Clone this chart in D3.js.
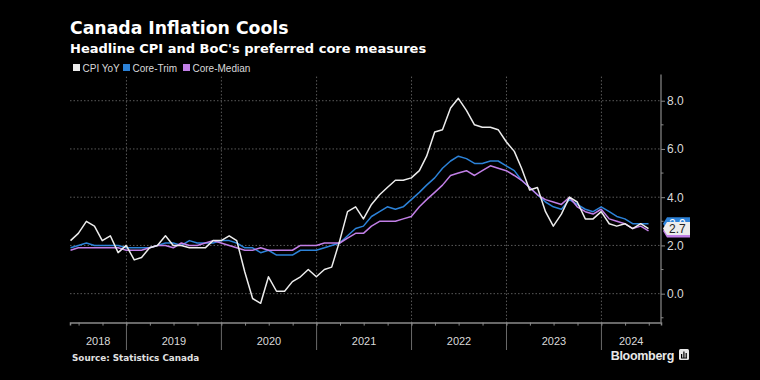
<!DOCTYPE html>
<html>
<head>
<meta charset="utf-8">
<script src="https://cdn.jsdelivr.net/npm/d3@7"></script>
<style>
  html, body { margin: 0; padding: 0; background: #000; }
  svg { display: block; font-family: "Liberation Sans", Arial, sans-serif; }
</style>
</head>
<body>
<svg id="chart" width="760" height="380"></svg>
<script>
// ---- Data (monthly, May 2018 – Jun 2024, YoY %) ----
const startMonth = "2018-05";
const cpiYoY = [
  2.2, 2.5, 3.0, 2.8, 2.2, 2.4, 1.7, 2.0,
  1.4, 1.5, 1.9, 2.0, 2.4, 2.0, 2.0, 1.9, 1.9, 1.9, 2.2, 2.2,
  2.4, 2.2, 0.9, -0.2, -0.4, 0.7, 0.1, 0.1, 0.5, 0.7, 1.0, 0.7,
  1.0, 1.1, 2.2, 3.4, 3.6, 3.1, 3.7, 4.1, 4.4, 4.7, 4.7, 4.8,
  5.1, 5.7, 6.7, 6.8, 7.7, 8.1, 7.6, 7.0, 6.9, 6.9, 6.8, 6.3,
  5.9, 5.2, 4.3, 4.4, 3.4, 2.8, 3.3, 4.0, 3.8, 3.1, 3.1, 3.4,
  2.9, 2.8, 2.9, 2.7, 2.9, 2.7
];
const coreTrim = [
  1.9, 2.0, 2.1, 2.0, 2.0, 2.0, 2.0, 1.9,
  1.9, 1.9, 1.9, 2.0, 2.1, 2.1, 2.0, 2.2, 2.1, 2.1, 2.1, 2.2,
  2.2, 2.1, 1.9, 1.9, 1.7, 1.8, 1.6, 1.6, 1.6, 1.8, 1.8, 1.8,
  1.9, 2.0, 2.1, 2.4, 2.7, 2.8, 3.2, 3.4, 3.6, 3.5, 3.6, 3.9,
  4.2, 4.5, 4.8, 5.2, 5.5, 5.7, 5.6, 5.4, 5.4, 5.5, 5.5, 5.3,
  5.1, 4.7, 4.4, 4.1, 3.8, 3.6, 3.5, 3.9, 3.7, 3.5, 3.4, 3.6,
  3.4, 3.2, 3.1, 2.9, 2.9, 2.9
];
const coreMedian = [
  1.8, 1.9, 1.9, 1.9, 1.9, 1.9, 1.9, 1.8,
  1.8, 1.8, 1.9, 2.0, 2.0, 1.9, 2.1, 2.0, 2.0, 2.1, 2.2, 2.1,
  2.0, 1.9, 1.8, 1.8, 1.9, 1.8, 1.8, 1.8, 1.8, 2.0, 2.0, 2.0,
  2.1, 2.1, 2.1, 2.3, 2.5, 2.5, 2.8, 3.0, 3.0, 3.0, 3.1, 3.2,
  3.6, 3.9, 4.2, 4.5, 4.9, 5.0, 5.1, 4.9, 5.1, 5.3, 5.2, 5.1,
  4.9, 4.7, 4.4, 4.1, 3.9, 3.8, 3.7, 4.0, 3.6, 3.4, 3.3, 3.5,
  3.1, 3.0, 2.9, 2.7, 2.8, 2.6
];
const seriesNames = ["CPI YoY", "Core-Trim", "Core-Median"];
const seriesColors = ["#ececec", "#2c82d8", "#c17fe6"];
const yTicks = [0, 2, 4, 6, 8];
const yMinorTicks = [-1, 1, 3, 5, 7];
const yearLabels = ["2018", "2019", "2020", "2021", "2022", "2023", "2024"];
const endLabels = ["2.7", "2.9", "2.6"];
const titleText = "Canada Inflation Cools";
const subtitleText = "Headline CPI and BoC's preferred core measures";
const sourceText = "Source: Statistics Canada";

// ---- Build ----
const svg = d3.select("#chart");
const parseMonth = d3.timeParse("%Y-%m");
const m0 = parseMonth(startMonth);
// month-end dates
const dates = cpiYoY.map((_, i) => d3.timeDay.offset(d3.timeMonth.offset(m0, i + 1), -1));
const allSeries = [cpiYoY, coreTrim, coreMedian];

const plotL = 70, plotR = 661, plotT = 76.6, plotB = 322.6;
const x = d3.scaleTime()
  .domain([new Date(2018, 4, 29), new Date(2024, 7, 17)])
  .range([plotL, plotR]);
const y = d3.scaleLinear().domain([-1.2, 9]).range([plotB, plotT]);

const gridColor = "#5a5a5a";
const axisColor = "#8a8a8a";
const textColor = "#d9d9d9";
const headFont = "DejaVu Sans, Verdana, sans-serif";

// horizontal gridlines
svg.append("g").selectAll("line").data(yTicks).join("line")
  .attr("x1", plotL).attr("x2", plotR)
  .attr("y1", d => y(d)).attr("y2", d => y(d))
  .attr("stroke", gridColor).attr("stroke-width", 1).attr("stroke-dasharray", "1.5,2");

// year boundaries
const yearStarts = d3.timeYear.range(new Date(2019, 0, 1), new Date(2025, 0, 1))
  .filter(d => x(d) < plotR);
svg.append("g").selectAll("line").data(yearStarts).join("line")
  .attr("x1", d => x(d)).attr("x2", d => x(d))
  .attr("y1", plotT).attr("y2", plotB)
  .attr("stroke", gridColor).attr("stroke-width", 1).attr("stroke-dasharray", "1.5,2");
svg.append("g").selectAll("line").data(yearStarts).join("line")
  .attr("x1", d => x(d)).attr("x2", d => x(d))
  .attr("y1", plotB).attr("y2", 350)
  .attr("stroke", "#6a6a6a").attr("stroke-width", 1);

// bottom axis with quarterly ticks
const xAxis = d3.axisBottom(x)
  .ticks(d3.timeMonth.every(3))
  .tickSize(3).tickFormat("");
const gx = svg.append("g").attr("transform", `translate(0,${plotB})`).call(xAxis);
gx.select(".domain").attr("stroke", axisColor).attr("stroke-width", 1.5);
gx.selectAll(".tick line").attr("stroke", axisColor);

// year labels
const domain = x.domain();
svg.append("g").selectAll("text").data(yearLabels).join("text")
  .attr("x", d => {
    const yr = +d;
    const a = Math.max(+new Date(yr, 0, 1), +domain[0]);
    const b = Math.min(+new Date(yr + 1, 0, 1), +domain[1]);
    return (x(new Date(a)) + x(new Date(b))) / 2;
  })
  .attr("y", 345)
  .attr("text-anchor", "middle")
  .attr("fill", textColor)
  .attr("font-size", 11)
  .text(d => d);

// right axis
const yAxis = d3.axisRight(y).tickValues(yTicks).tickFormat(d3.format(".1f")).tickSize(4).tickPadding(2);
const gy = svg.append("g").attr("transform", `translate(${plotR},0)`).call(yAxis);
gy.select(".domain").attr("stroke", axisColor).attr("stroke-width", 1.2)
  .attr("d", `M0,${plotT - 2}V${plotB}`);
gy.selectAll(".tick line").attr("stroke", axisColor);
gy.selectAll(".tick text").attr("fill", textColor).attr("font-size", 12)
  .attr("font-family", "Liberation Sans, Arial, sans-serif");
svg.append("g").selectAll("line").data(yMinorTicks).join("line")
  .attr("x1", plotR).attr("x2", plotR + 2.5)
  .attr("y1", d => y(d)).attr("y2", d => y(d))
  .attr("stroke", axisColor);

// lines
const line = d3.line().x((d, i) => x(dates[i])).y(d => y(d));
const drawOrder = [1, 2, 0];
drawOrder.forEach(k => {
  svg.append("path").datum(allSeries[k])
    .attr("fill", "none")
    .attr("stroke", seriesColors[k])
    .attr("stroke-width", 1.5)
    .attr("stroke-linejoin", "round")
    .attr("d", line);
});

// end labels (stacked tags, as in the reference)
const lastIdx = cpiYoY.length - 1;
const labelOrder = [2, 1, 0];
const boxW = 27, boxH = 13, notch = 4;
labelOrder.forEach(k => {
  const yy = y(allSeries[k][lastIdx]);
  const x0 = plotR + 2;
  const g = svg.append("g");
  g.append("path")
    .attr("d", `M${x0},${yy} L${x0 + notch},${yy - boxH / 2} L${x0 + boxW},${yy - boxH / 2} L${x0 + boxW},${yy + boxH / 2} L${x0 + notch},${yy + boxH / 2} Z`)
    .attr("fill", seriesColors[k]);
  g.append("text")
    .attr("x", x0 + notch + 2).attr("y", yy + 4.5)
    .attr("fill", k === 0 ? "#222" : "#fff")
    .attr("font-size", 12)
    .text(endLabels[k]);
});

// title & subtitle
svg.append("text").attr("x", 70).attr("y", 34)
  .attr("fill", "#ffffff").attr("font-size", 17.3).attr("font-weight", "bold")
  .attr("font-family", headFont)
  .text(titleText);
svg.append("text").attr("x", 70).attr("y", 52.5)
  .attr("fill", "#ffffff").attr("font-size", 13).attr("font-weight", "bold")
  .attr("font-family", headFont)
  .text(subtitleText);

// legend
const legendX = [73, 123, 183];
const lg = svg.append("g");
seriesNames.forEach((name, k) => {
  lg.append("rect").attr("x", legendX[k]).attr("y", 64).attr("width", 7).attr("height", 7)
    .attr("fill", seriesColors[k]);
  lg.append("text").attr("x", legendX[k] + 9.5).attr("y", 71.5)
    .attr("fill", textColor).attr("font-size", 10)
    .text(name);
});

// source
svg.append("text").attr("x", 72).attr("y", 360.5)
  .attr("fill", "#e0e0e0").attr("font-size", 8.8).attr("font-weight", "bold")
  .attr("font-family", headFont)
  .text(sourceText);

// Bloomberg logo
svg.append("text").attr("x", 674).attr("y", 360)
  .attr("text-anchor", "end")
  .attr("fill", "#e8e8e8").attr("font-size", 12.5).attr("font-weight", "bold")
  .attr("letter-spacing", "-0.3")
  .text("Bloomberg");
const logo = svg.append("g").attr("transform", "translate(679,349)");
logo.append("rect").attr("width", 10).attr("height", 11).attr("rx", 1.5).attr("fill", "#e8e8e8");
[[2, 5, 1.2], [4.3, 2.5, 1.2], [6.6, 4, 1.2]].forEach(b => {
  logo.append("rect").attr("x", b[0]).attr("y", b[1]).attr("width", b[2]).attr("height", 8 - b[1] + 1).attr("fill", "#000");
});
logo.append("rect").attr("x", 2).attr("y", 8.6).attr("width", 6).attr("height", 0.9).attr("fill", "#000");
</script>
</body>
</html>
